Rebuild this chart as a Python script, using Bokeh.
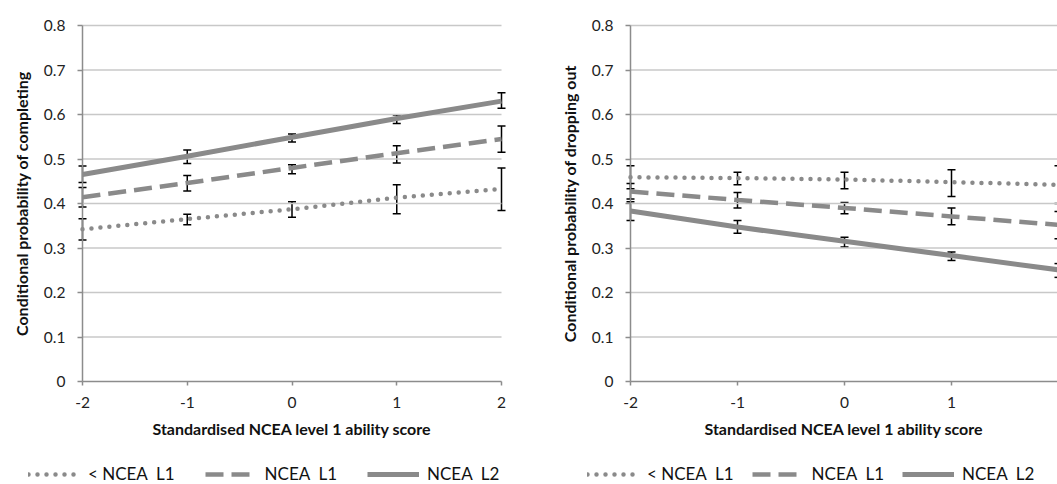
from bokeh.plotting import figure
from bokeh.models import (Range1d, FixedTicker, Whisker, TeeHead, ColumnDataSource,
                          Legend, LegendItem)
from bokeh.layouts import row
from bokeh.embed import file_html
from bokeh.resources import INLINE

# ---------------- data ----------------
x_vals = [-2, -1, 0, 1, 2]
x_tick_labels = ["-2", "-1", "0", "1", "2"]
y_ticks = [0, 0.1, 0.2, 0.3, 0.4, 0.5, 0.6, 0.7, 0.8]
y_tick_labels = ["0", "0.1", "0.2", "0.3", "0.4", "0.5", "0.6", "0.7", "0.8"]
series_names = ["< NCEA  L1", "NCEA  L1", "NCEA  L2"]

# Panel 1: conditional probability of completing
comp_below_l1 = [0.342, 0.365, 0.387, 0.413, 0.433]
comp_below_l1_lo = [0.318, 0.352, 0.369, 0.377, 0.384]
comp_below_l1_hi = [0.366, 0.376, 0.404, 0.442, 0.480]
comp_l1 = [0.414, 0.446, 0.480, 0.513, 0.545]
comp_l1_lo = [0.392, 0.428, 0.467, 0.491, 0.515]
comp_l1_hi = [0.436, 0.463, 0.487, 0.530, 0.574]
comp_l2 = [0.465, 0.506, 0.549, 0.591, 0.630]
comp_l2_lo = [0.447, 0.490, 0.538, 0.580, 0.614]
comp_l2_hi = [0.484, 0.520, 0.556, 0.599, 0.649]

# Panel 2: conditional probability of dropping out
drop_below_l1 = [0.459, 0.457, 0.454, 0.448, 0.442]
drop_below_l1_lo = [0.433, 0.442, 0.433, 0.416, 0.400]
drop_below_l1_hi = [0.485, 0.470, 0.470, 0.476, 0.485]
drop_l1 = [0.427, 0.408, 0.390, 0.371, 0.352]
drop_l1_lo = [0.410, 0.390, 0.377, 0.352, 0.321]
drop_l1_hi = [0.445, 0.425, 0.402, 0.390, 0.382]
drop_l2 = [0.383, 0.347, 0.315, 0.283, 0.251]
drop_l2_lo = [0.362, 0.333, 0.302, 0.272, 0.234]
drop_l2_hi = [0.404, 0.362, 0.324, 0.291, 0.265]

x_title = "Standardised NCEA level 1 ability score"
y_title_1 = "Conditional probability of completing"
y_title_2 = "Conditional probability of dropping out"

# ---------------- styling / layout (pixels) ----------------
FONT = "Lato"
LINE_COLOR = "#8a8a8a"
AXIS_COLOR = "#8c8c8c"
GRID_COLOR = "#c8c8c8"
FIG_H = 484
PLOT_TOP = 25      # pixel row of the top value
PLOT_BOTTOM = 381  # pixel row of y = 0


def make_panel(series, y_title, width, axis_px, px_per_unit, legend_px, legend_spacing):
    y_top, y_bot = y_ticks[-1], y_ticks[0]
    py = (PLOT_BOTTOM - PLOT_TOP) / (y_top - y_bot)
    y_start = y_bot - (FIG_H - PLOT_BOTTOM) / py
    y_end = y_top + PLOT_TOP / py
    x_start = x_vals[0] - axis_px / px_per_unit
    x_end = x_start + width / px_per_unit

    p = figure(width=width, height=FIG_H, output_backend="svg", toolbar_location=None,
               x_range=Range1d(x_start, x_end), y_range=Range1d(y_start, y_end),
               min_border=0)
    p.outline_line_color = None
    p.background_fill_color = "white"
    p.border_fill_color = "white"
    p.xgrid.visible = False
    p.ygrid.visible = False

    # horizontal gridlines at the y ticks, across the x extent of the data
    n = len(y_ticks) - 1
    p.segment(x0=[x_vals[0]] * n, x1=[x_vals[-1]] * n,
              y0=y_ticks[1:], y1=y_ticks[1:], line_color=GRID_COLOR, line_width=1.3)

    p.yaxis.ticker = FixedTicker(ticks=y_ticks)
    p.yaxis.major_label_overrides = {t: l for t, l in zip(y_ticks, y_tick_labels)}
    p.xaxis.ticker = FixedTicker(ticks=x_vals)
    p.xaxis.major_label_overrides = {t: l for t, l in zip(x_vals, x_tick_labels)}
    p.xaxis.fixed_location = y_ticks[0]
    p.yaxis.fixed_location = x_vals[0]
    p.xaxis.bounds = (x_vals[0], x_vals[-1])
    p.yaxis.bounds = (y_ticks[0], y_ticks[-1])

    for ax in (p.xaxis[0], p.yaxis[0]):
        ax.axis_line_color = AXIS_COLOR
        ax.axis_line_width = 1.5
        ax.major_tick_line_color = AXIS_COLOR
        ax.major_tick_line_width = 1.5
        ax.major_tick_in = 0
        ax.minor_tick_line_color = None
        ax.major_label_text_font = FONT
        ax.major_label_text_font_size = "15.5px"
        ax.major_label_text_color = "#222222"
        ax.axis_label_text_font = FONT
        ax.axis_label_text_font_style = "bold"
        ax.axis_label_text_font_size = "16px"
        ax.axis_label_text_color = "#111111"
    p.yaxis.major_tick_out = 5
    p.yaxis.major_label_standoff = 12
    p.yaxis.axis_label_standoff = 10
    p.xaxis.major_tick_out = 4
    p.xaxis.major_label_standoff = 11
    p.xaxis.axis_label_standoff = 8
    p.xaxis.axis_label = x_title
    p.yaxis.axis_label = y_title

    styles = [
        dict(line_width=4.5, line_dash="0 9", line_cap="round"),
        dict(line_width=4.5, line_dash="18 8", line_cap="butt"),
        dict(line_width=5, line_dash="solid", line_cap="butt"),
    ]
    items = []
    for (name, vals, lo, hi), st in zip(series, styles):
        src = ColumnDataSource(dict(x=x_vals, y=vals))
        r = p.line("x", "y", source=src, line_color=LINE_COLOR, **st)
        items.append(LegendItem(label=name, renderers=[r]))
    for (name, vals, lo, hi) in series:
        src = ColumnDataSource(dict(x=x_vals, lo=lo, hi=hi))
        w = Whisker(source=src, base="x", lower="lo", upper="hi",
                    line_color="black", line_width=1.5,
                    upper_head=TeeHead(size=8, line_color="black", line_width=1.5),
                    lower_head=TeeHead(size=8, line_color="black", line_width=1.5))
        p.add_layout(w)

    legend = Legend(items=items, orientation="horizontal", location=(legend_px, 0),
                    glyph_width=52, glyph_height=20, label_height=20,
                    label_standoff=8, spacing=legend_spacing, padding=0, margin=0,
                    border_line_color=None, background_fill_alpha=0,
                    label_text_font=FONT, label_text_font_size="17px",
                    label_text_color="#111111")
    p.add_layout(legend, "center")
    return p


p1 = make_panel([
    (series_names[0], comp_below_l1, comp_below_l1_lo, comp_below_l1_hi),
    (series_names[1], comp_l1, comp_l1_lo, comp_l1_hi),
    (series_names[2], comp_l2, comp_l2_lo, comp_l2_hi),
], y_title_1, width=526, axis_px=82, px_per_unit=104.75, legend_px=28, legend_spacing=30)

p2 = make_panel([
    (series_names[0], drop_below_l1, drop_below_l1_lo, drop_below_l1_hi),
    (series_names[1], drop_l1, drop_l1_lo, drop_l1_hi),
    (series_names[2], drop_l2, drop_l2_lo, drop_l2_hi),
], y_title_2, width=531, axis_px=104, px_per_unit=107.0, legend_px=61, legend_spacing=18)

layout = row(p1, p2)
open("out.html", "w").write(file_html(layout, INLINE))
